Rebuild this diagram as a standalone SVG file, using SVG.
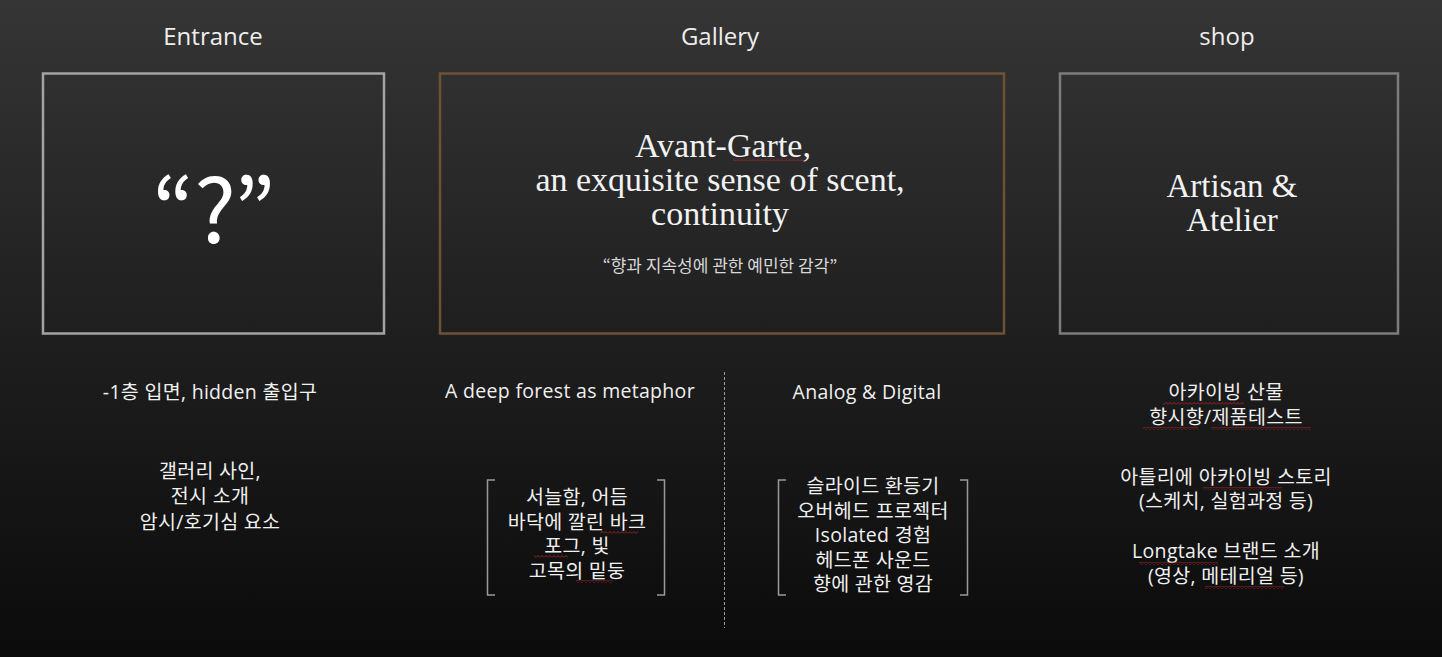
<svg xmlns="http://www.w3.org/2000/svg" width="1442" height="657" viewBox="0 0 1442 657">
<defs>
<linearGradient id="bg" x1="0" y1="0" x2="0" y2="1">
<stop offset="0" stop-color="#353535"/>
<stop offset="0.5" stop-color="#1f1f1f"/>
<stop offset="1" stop-color="#0b0b0b"/>
</linearGradient>
<pattern id="squig" width="4" height="3" patternUnits="userSpaceOnUse">
<path d="M0 2.5 L2 0.5 L4 2.5" fill="none" stroke="#c0282a" stroke-width="0.8"/>
</pattern>
<style>
.h{font-family:"Open Sans","Noto Sans CJK KR",sans-serif;font-size:24px;fill:#eeeeee;text-anchor:middle}
.s{font-family:"Liberation Serif","DejaVu Serif",serif;font-size:33px;fill:#f2f2f2;text-anchor:middle}
.g{font-size:34px}
.k{font-family:"Open Sans","Noto Sans CJK KR",sans-serif;font-size:19.5px;letter-spacing:0.3px;fill:#f0f0f0;text-anchor:middle}
.box{fill:none;stroke-width:2.5}
.br{fill:none;stroke:#9a9a9a;stroke-width:1.5}
.sq{fill:url(#squig)}
</style>
</defs>
<rect width="1442" height="657" fill="url(#bg)"/>
<g id="entrance">
<text class="h" x="213" y="45">Entrance</text>
<rect class="box" x="43" y="73.5" width="341" height="260" stroke="#a3a3a3"/>
<text x="214" y="243" font-family="Noto Sans CJK KR,sans-serif" font-size="88" fill="#ffffff" text-anchor="middle">“?”</text>
<text class="k" x="210" y="399">-1층 입면, hidden 출입구</text>
<text class="k" x="210" y="478">갤러리 사인,</text>
<text class="k" x="210" y="503">전시 소개</text>
<text class="k" x="210" y="529">암시/호기심 요소</text>
</g>
<g id="gallery">
<text class="h" x="720" y="45">Gallery</text>
<rect class="box" x="440" y="73.5" width="564" height="260" stroke="#6d5236"/>
<text class="s g" x="723" y="157">Avant-Garte,</text>
<rect class="sq" x="733" y="158" width="72" height="3"/>
<text class="s g" x="720" y="191">an exquisite sense of scent,</text>
<text class="s g" x="720" y="225">continuity</text>
<text x="720" y="272" font-family="Noto Sans CJK KR,sans-serif" font-size="17" fill="#d8d8d8" text-anchor="middle">“향과 지속성에 관한 예민한 감각”</text>
<text class="k" x="570" y="398">A deep forest as metaphor</text>
<text class="k" x="867" y="399">Analog &amp; Digital</text>
<g id="list-forest">
<path class="br" d="M495 480 H487.5 V595 H495"/>
<path class="br" d="M657 480 H664.5 V595 H657"/>
<text class="k" x="577" y="504">서늘함, 어듬</text>
<text class="k" x="577" y="528.6">바닥에 깔린 바크</text>
<rect class="sq" x="600" y="531" width="38" height="3"/>
<text class="k" x="577" y="553.2">포그, 빛</text>
<rect class="sq" x="534" y="555" width="34" height="3"/>
<text class="k" x="577" y="577.8">고목의 밑둥</text>
<rect class="sq" x="576" y="580" width="37" height="3"/>
</g>
<g id="list-analog">
<path class="br" d="M786 480 H778.5 V595 H786"/>
<path class="br" d="M960 480 H967.5 V595 H960"/>
<text class="k" x="873" y="493">슬라이드 환등기</text>
<text class="k" x="873" y="517.6">오버헤드 프로젝터</text>
<text class="k" x="873" y="542.2">Isolated 경험</text>
<text class="k" x="873" y="566.8">헤드폰 사운드</text>
<text class="k" x="873" y="591.4">향에 관한 영감</text>
</g>
</g>
<g id="shop">
<text class="h" x="1227" y="45">shop</text>
<rect class="box" x="1060" y="73.5" width="338" height="260" stroke="#7c7c7c"/>
<text class="s" x="1232" y="197">Artisan &amp;</text>
<text class="s" x="1232" y="231">Atelier</text>
<text class="k" x="1226" y="399">아카이빙 산물</text>
<rect class="sq" x="1163" y="402" width="81" height="3"/>
<text class="k" x="1226" y="424">향시향/제품테스트</text>
<rect class="sq" x="1143" y="427" width="55" height="3"/>
<rect class="sq" x="1211" y="427" width="100" height="3"/>
<text class="k" x="1226" y="483.6">아틀리에 아카이빙 스토리</text>
<rect class="sq" x="1203" y="487" width="79" height="3"/>
<text class="k" x="1226" y="508.4">(스케치, 실험과정 등)</text>
<text class="k" x="1226" y="558">Longtake 브랜드 소개</text>
<rect class="sq" x="1139" y="562" width="79" height="3"/>
<text class="k" x="1226" y="583">(영상, 메테리얼 등)</text>
<rect class="sq" x="1205" y="586" width="79" height="3"/>
</g>
<g id="connectors">
<line x1="724.5" y1="372" x2="724.5" y2="628" stroke="#9a9a9a" stroke-width="1" stroke-dasharray="3 2"/>
</g>
</svg>
